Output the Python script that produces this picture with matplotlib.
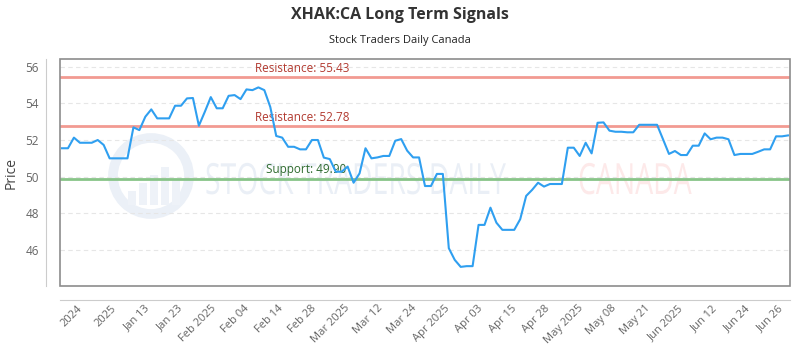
import numpy as np
import matplotlib
matplotlib.use("Agg")
import matplotlib.pyplot as plt
from matplotlib.patches import Rectangle, Circle, PathPatch
from matplotlib.textpath import TextPath
from matplotlib.font_manager import FontProperties
from matplotlib import transforms

# Closing prices (one per trading session)
prices = [
    51.55, 51.55, 52.13, 51.85, 51.85, 51.85, 52.00, 51.73, 51.00, 51.00,
    51.00, 51.00, 52.69, 52.54, 53.27, 53.67, 53.18, 53.18, 53.18, 53.87,
    53.87, 54.27, 54.29, 52.78, 53.54, 54.34, 53.73, 53.73, 54.41, 54.45,
    54.23, 54.76, 54.72, 54.87, 54.72, 53.80, 52.22, 52.13, 51.63, 51.63,
    51.49, 51.49, 52.00, 52.00, 51.04, 50.96, 50.27, 50.27, 50.55, 49.67,
    50.18, 51.55, 51.00, 51.05, 51.13, 51.13, 51.96, 52.05, 51.42, 51.05,
    51.05, 49.49, 49.49, 50.15, 50.15, 46.10, 45.46, 45.08, 45.12, 45.12,
    47.37, 47.37, 48.31, 47.49, 47.10, 47.10, 47.10, 47.68, 48.95, 49.28,
    49.67, 49.46, 49.60, 49.60, 49.60, 51.58, 51.58, 51.13, 51.85, 51.27,
    52.94, 52.96, 52.51, 52.45, 52.45, 52.42, 52.42, 52.83, 52.83, 52.83,
    52.83, 52.04, 51.24, 51.40, 51.18, 51.18, 51.69, 51.69, 52.36, 52.04,
    52.13, 52.13, 52.04, 51.18, 51.24, 51.24, 51.24, 51.36, 51.49, 51.49,
    52.20, 52.20, 52.25,
]

tick_labels = [
    "2024", "2025", "Jan 13", "Jan 23", "Feb 2025", "Feb 04", "Feb 14",
    "Feb 28", "Mar 2025", "Mar 12", "Mar 24", "Apr 2025", "Apr 03", "Apr 15",
    "Apr 28", "May 2025", "May 08", "May 21", "Jun 2025", "Jun 12", "Jun 24",
    "Jun 26",
]

resistance_levels = [55.43, 52.78]
support_levels = [49.90]

plt.rcParams["font.family"] = ["Open Sans", "DejaVu Sans"]

fig = plt.figure(figsize=(8, 3.5), dpi=100)
ax = fig.add_axes([0.075, 0.183, 0.9125, 0.648])

# spines first: moving a spine resets the ticks
for side in ["top", "right"]:
    ax.spines[side].set_visible(False)
for side in ["left", "bottom"]:
    ax.spines[side].set_position(("outward", 10))
    ax.spines[side].set_color("#cccccc")
ax.add_patch(Rectangle((0, 0), 1, 1, transform=ax.transAxes, fill=False,
                       ec="#8c8c8c", lw=1.2, clip_on=False, zorder=5))

x = np.arange(len(prices))

# Faint watermark behind the data
px_tr = transforms.IdentityTransform()
ax.add_patch(Circle((151, 350 - 176), 38, transform=px_tr, fill=False,
                    ec="#ebf0f7", lw=7, zorder=0, clip_on=False))
for bx, bh in zip([128, 139, 150, 161, 172], [14, 22, 30, 38, 26]):
    ax.add_patch(Rectangle((bx, 350 - 205), 8, bh, transform=px_tr,
                           fc="#eef2f8", ec="none", zorder=0))
fp = FontProperties(family="Open Sans")
for word, px, col in [("STOCK TRADERS DAILY", 205, "#eaeff6"),
                      ("CANADA", 578, "#fde9e9")]:
    tp = TextPath((0, 0), word, size=43, prop=fp)
    tr = transforms.Affine2D().scale(0.66, 1.0).translate(px, 350 - 194)
    ax.add_patch(PathPatch(tr.transform_path(tp), transform=px_tr,
                           fc=col, ec="none", zorder=0))

# Support / resistance levels
label_x = 40.3
for lvl in resistance_levels:
    ax.axhline(lvl, color="#f29a92", linewidth=2, zorder=2)
    ax.text(label_x, lvl + 0.12, f"Resistance: {lvl:.2f}", color="#b23a30",
            fontsize=8.5, ha="center", va="bottom", zorder=3)
for lvl in support_levels:
    ax.axhline(lvl, color="#88c488", linewidth=2, zorder=2)
    ax.text(label_x + 0.7, lvl + 0.12, f"Support: {lvl:.2f}", color="#2f6b2f",
            fontsize=8.5, ha="center", va="bottom", zorder=3)

ax.plot(x, prices, color="#2f9ff0", linewidth=1.5, zorder=4)

ax.set_xlim(-0.34, len(prices) - 1 + 0.34)
ax.set_ylim(44.04, 56.41)

# Ticks and gridlines
ax.set_yticks([46, 48, 50, 52, 54, 56])
ax.yaxis.grid(True, color="#e6e6e6", linestyle=(0, (4, 3)), linewidth=0.8)
ax.set_axisbelow(True)
ax.tick_params(axis="both", length=0, labelcolor="#666666")
ax.tick_params(axis="x", pad=5, labelsize=8, labelrotation=45)
ax.tick_params(axis="y", pad=5, labelsize=8.5)
ax.set_xticks(np.linspace(3.2, 121.0, len(tick_labels)))
ax.set_xticklabels(tick_labels)
for lab in ax.get_xticklabels():
    lab.set_ha("right")
    lab.set_va("center")
    lab.set_rotation_mode("anchor")

ax.set_ylabel("Price", fontsize=10, color="#444444", labelpad=5)

fig.text(0.5, 1 - 15 / 350, "XHAK:CA Long Term Signals", ha="center", va="center",
         fontsize=11.5, fontweight="bold", color="#333333")
fig.text(0.5, 1 - 40 / 350, "Stock Traders Daily Canada", ha="center", va="center",
         fontsize=8, color="#222222")

fig.savefig("out.png", dpi=100)
